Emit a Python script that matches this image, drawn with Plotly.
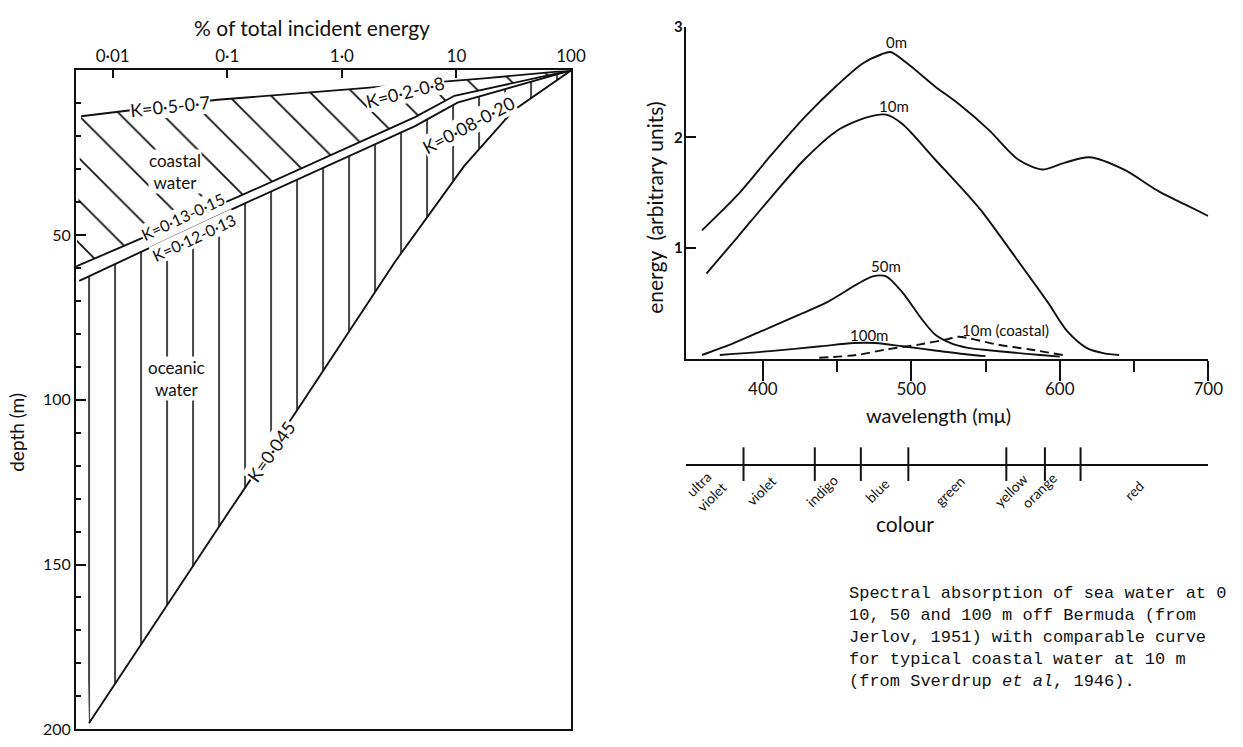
import plotly.graph_objects as go

W, H = 1243, 747
FONT = "Lato"
INK = "#111111"

# ---------------- left panel: % of incident energy vs depth ----------------
pct_ticks = [0.01, 0.1, 1, 10, 100]
pct_ticktext = ["0·01", "0·1", "1·0", "10", "100"]
depth_ticks = [50, 100, 150, 200]
depth_ticktext = ["50", "100", "150", "200"]

# K = 0.5-0.7 (upper boundary of coastal water)
k_top_pct = [0.0053, 0.082, 1.0, 17.4, 100]
k_top_depth = [13.9, 8.9, 5.9, 2.4, 0]
# K = 0.13-0.15 (lower boundary of coastal water)
k_coast_low_pct = [0.0048, 0.122, 4.35, 9.6, 100]
k_coast_low_depth = [59.5, 38.5, 14.2, 7.7, 0]
# K = 0.12-0.13 (upper boundary of oceanic water)
k_ocean_top_pct = [0.0051, 0.122, 4.35, 10.2, 100]
k_ocean_top_depth = [63.9, 41.4, 16.9, 9.8, 0]
# K = 0.08-0.20 near surface, K = 0.045 below (lower boundary of oceanic water)
k_ocean_low_pct = [100, 49.9, 31.6, 17.4, 11.7, 2.92, 0.426, 0.106, 0.0062]
k_ocean_low_depth = [0, 7.4, 12.1, 22.2, 29.0, 58.0, 102.1, 133.4, 198.2]

# ---------------- right panel: spectra ----------------
wl_ticks = [400, 500, 600, 700]
wl_minor = [450, 550, 650]
energy_ticks = [1, 2, 3]

wl_0m = [359, 383, 405, 428, 450, 467, 480, 486, 498, 516, 532, 552, 572, 588, 603, 620, 643, 667, 685, 700]
e_0m = [1.16, 1.48, 1.83, 2.18, 2.47, 2.665, 2.75, 2.77, 2.66, 2.46, 2.30, 2.07, 1.80, 1.71, 1.77, 1.82, 1.71, 1.51, 1.39, 1.29]

wl_10m = [362, 383, 405, 428, 450, 470, 483, 494, 516, 538, 547, 570, 592, 605, 618, 630, 640]
e_10m = [0.77, 1.10, 1.45, 1.80, 2.06, 2.18, 2.205, 2.12, 1.80, 1.48, 1.34, 0.92, 0.51, 0.25, 0.10, 0.05, 0.035]

wl_50m = [359, 380, 399, 423, 443, 463, 474, 483, 494, 507, 516, 527, 538, 547, 570, 587, 600]
e_50m = [0.035, 0.14, 0.25, 0.39, 0.51, 0.67, 0.745, 0.745, 0.60, 0.36, 0.22, 0.14, 0.10, 0.085, 0.055, 0.035, 0.02]

wl_100m = [371, 405, 439, 461, 476, 494, 516, 538, 550]
e_100m = [0.035, 0.07, 0.114, 0.143, 0.143, 0.114, 0.076, 0.04, 0.025]

wl_coastal10 = [438, 463, 483, 505, 525, 532, 558, 580, 602]
e_coastal10 = [0.01, 0.035, 0.085, 0.129, 0.18, 0.20, 0.129, 0.085, 0.035]

# colour scale below
colour_bounds = [387, 435, 466, 498, 564, 590, 614]
colour_names = ["ultra<br>violet", "violet", "indigo", "blue", "green", "yellow", "orange", "red"]
colour_label_wl = [361, 399, 440, 477, 526, 567, 586, 650]

caption = ("Spectral absorption of sea water at 0<br>"
           "10, 50 and 100 m off Bermuda (from<br>"
           "Jerlov, 1951) with comparable curve<br>"
           "for typical coastal water at 10 m<br>"
           "(from Sverdrup <i>et al</i>, 1946).")


def px(x, y):
    return x / W, 1 - y / H


fig = go.Figure()

# hatched regions
fig.add_trace(go.Scatter(
    x=k_top_pct + k_coast_low_pct[::-1], y=k_top_depth + k_coast_low_depth[::-1],
    fill="toself", mode="none", fillcolor="rgba(0,0,0,0)",
    fillpattern=dict(shape="\\", size=30, solidity=0.06, fgcolor=INK, bgcolor="rgba(0,0,0,0)", fillmode="replace"),
    xaxis="x", yaxis="y", hoverinfo="skip", showlegend=False))
fig.add_trace(go.Scatter(
    x=k_ocean_top_pct + k_ocean_low_pct, y=k_ocean_top_depth + k_ocean_low_depth,
    fill="toself", mode="none", fillcolor="rgba(0,0,0,0)",
    fillpattern=dict(shape="|", size=26, solidity=0.06, fgcolor=INK, bgcolor="rgba(0,0,0,0)", fillmode="replace"),
    xaxis="x", yaxis="y", hoverinfo="skip", showlegend=False))

for xs, ys in [(k_top_pct, k_top_depth), (k_coast_low_pct, k_coast_low_depth),
               (k_ocean_top_pct, k_ocean_top_depth), (k_ocean_low_pct, k_ocean_low_depth)]:
    fig.add_trace(go.Scatter(x=xs, y=ys, mode="lines", line=dict(color=INK, width=1.9),
                             xaxis="x", yaxis="y", hoverinfo="skip", showlegend=False))

# spectra
for xs, ys, dash in [(wl_0m, e_0m, "solid"), (wl_10m, e_10m, "solid"), (wl_50m, e_50m, "solid"),
                     (wl_100m, e_100m, "solid"), (wl_coastal10, e_coastal10, "9px,5px")]:
    fig.add_trace(go.Scatter(x=xs, y=ys, mode="lines",
                             line=dict(color=INK, width=1.9, dash=dash, shape="spline", smoothing=0.8),
                             xaxis="x2", yaxis="y2", hoverinfo="skip", showlegend=False, cliponaxis=False))

# colour scale tick marks
fig.add_trace(go.Scatter(x=colour_bounds, y=[0] * len(colour_bounds), mode="markers",
                         marker=dict(symbol="line-ns", size=24, line=dict(color=INK, width=2)),
                         xaxis="x3", yaxis="y3", hoverinfo="skip", showlegend=False, cliponaxis=False))

axfont = dict(family=FONT, size=16, color=INK)
fig.update_layout(
    width=W, height=H, margin=dict(l=0, r=0, t=0, b=0),
    paper_bgcolor="white", plot_bgcolor="white", showlegend=False,
    xaxis=dict(type="log", range=[-2.32, 2.0], domain=[77 / W, 578 / W], side="top", anchor="y",
               tickvals=pct_ticks, ticktext=pct_ticktext, ticks="inside", ticklen=8, tickwidth=2,
               tickcolor=INK, showline=True, linecolor=INK, linewidth=2, mirror=True,
               showgrid=False, zeroline=False, tickfont=dict(family=FONT, size=17, color=INK)),
    yaxis=dict(range=[200, 0], domain=[1 - 738 / H, 1 - 62 / H], anchor="x",
               tickvals=depth_ticks, ticktext=depth_ticktext, ticks="inside", ticklen=10, tickwidth=2,
               tickcolor=INK, minor=dict(dtick=10, ticks="inside", ticklen=5, tickcolor=INK, tickwidth=1.5),
               showline=True, linecolor=INK, linewidth=2, mirror=True,
               showgrid=False, zeroline=False, tickfont=axfont),
    xaxis2=dict(range=[348, 700], domain=[694 / W, 1223 / W], anchor="y2",
                tickvals=wl_ticks, ticks="outside", ticklen=20, tickwidth=2, tickcolor=INK,
                minor=dict(tickvals=wl_minor, ticks="outside", ticklen=11, tickcolor=INK, tickwidth=2),
                showline=True, linecolor=INK, linewidth=2, showgrid=False, zeroline=False,
                ticklabelstandoff=-6,
                tickfont=dict(family=FONT, size=17, color=INK)),
    yaxis2=dict(range=[0, 3], domain=[1 - 358 / H, 1 - 17 / H], anchor="x2",
                tickvals=energy_ticks, ticks="inside", ticklen=10, tickwidth=2, tickcolor=INK,
                showline=True, linecolor=INK, linewidth=2, showgrid=False, zeroline=False,
                ticklabelstandoff=-2,
                tickfont=dict(family=FONT, size=15, color=INK, weight="bold")),
    xaxis3=dict(range=[348, 700], domain=[694 / W, 1223 / W], anchor="y3",
                showline=True, linecolor=INK, linewidth=2, showticklabels=False, ticks="",
                showgrid=False, zeroline=False),
    yaxis3=dict(range=[0, 1], domain=[1 - 466 / H, 1 - 440 / H], anchor="x3", visible=False),
)

ann = []


def label(x, y, text, size=17, angle=0, bg=None, family=FONT, xanchor="center", yanchor="middle", **kw):
    ax, ay = px(x, y)
    d = dict(x=ax, y=ay, xref="paper", yref="paper", text=text, showarrow=False,
             xanchor=xanchor, yanchor=yanchor,
             textangle=angle, font=dict(family=family, size=size, color=INK), borderpad=0)
    if bg:
        d["bgcolor"] = bg
    d.update(kw)
    ann.append(d)


# left panel labels
label(316, 18, "% of total incident energy", size=21)
label(17, 433, "depth (m)", size=19, angle=-90)
label(172, 99, "K=0·5-0·7", size=18, angle=-6, bg="white")
label(410, 84, "K=0·2-0·8", size=18, angle=-14, bg="white")
label(474, 118, "K=0·08-0·20", size=18, angle=-28, bg="white")
label(185, 212, "K=0·13-0·15", size=16, angle=-25, bg="white")
label(196, 233, "K=0·12-0·13", size=16, angle=-25, bg="white")
label(275, 453, "K=0·045", size=18, angle=-55, bg="white")
label(177, 166, "coastal<br>water", size=17, bg="white")
label(179, 378, "oceanic<br>water", size=17, bg="white")

# right panel labels
label(907, 33, "0m", size=15)
label(905, 99, "10m", size=15)
label(897, 263, "50m", size=15)
label(880, 333, "100m", size=15)
label(1018, 328, "10m (coastal)", size=15)
label(663, 203, "energy  (arbitrary units)", size=21, angle=-90)
label(950, 416, "wavelength (mμ)", size=20)
label(916, 527, "colour", size=21)

for name, wl in zip(colour_names, colour_label_wl):
    ann.append(dict(x=wl, y=1 - 493 / H, xref="x3", yref="paper", text=name, showarrow=False,
                    xanchor="center", yanchor="middle",
                    textangle=-45, font=dict(family=FONT, size=14, color=INK)))

label(858, 588, caption, size=17, family="Courier New, Liberation Mono, monospace",
      xanchor="left", yanchor="top", align="left")

fig.update_layout(annotations=ann)
fig.write_html("out.html")
